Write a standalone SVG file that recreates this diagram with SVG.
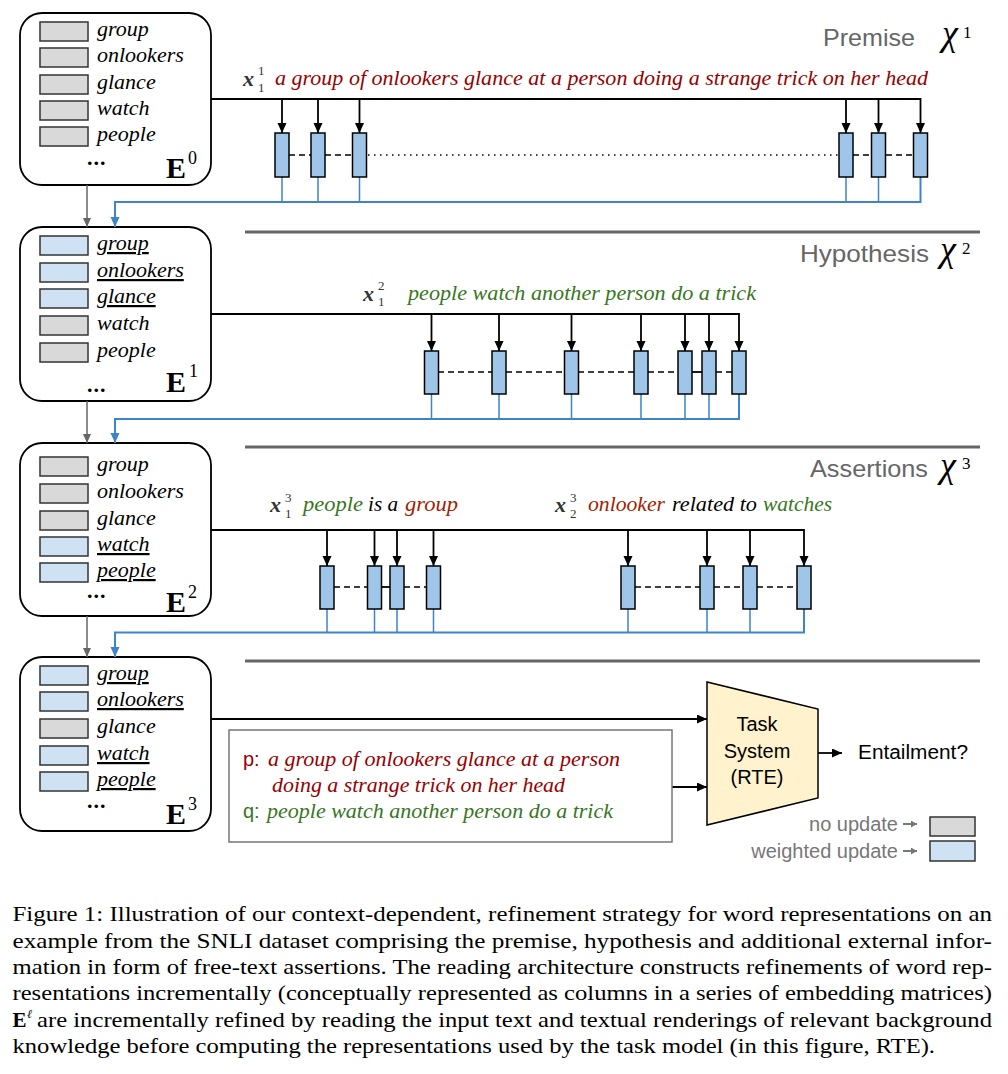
<svg xmlns="http://www.w3.org/2000/svg" width="1008" height="1074" viewBox="0 0 1008 1074">
<defs>
<style>
.box{fill:#fff;stroke:#000;stroke-width:1.8}
.cg{fill:#d9d9d9;stroke:#333;stroke-width:1.5}
.cb{fill:#cfe2f3;stroke:#333;stroke-width:1.5}
.word{font-family:"Liberation Serif","Times New Roman",serif;font-style:italic;font-size:22px;fill:#000}
.u{text-decoration:underline}
.dots{font-family:"Liberation Serif","Times New Roman",serif;font-weight:bold;font-size:22px;letter-spacing:1px}
.E{font-family:"Liberation Serif","Times New Roman",serif;font-weight:bold;font-size:30px}
.sup{font-family:"Liberation Serif","Times New Roman",serif;font-size:18px}
.col{fill:#9fc5e8;stroke:#000;stroke-width:1.5}
.bl{stroke:#000;stroke-width:1.8;fill:none}
.blue{stroke:#3d85c6;stroke-width:1.5;fill:none}
.blueh{stroke:#3d85c6;stroke-width:2;fill:none}
.dash{stroke:#000;stroke-width:1.5;stroke-dasharray:6 4}
.dot{stroke:#000;stroke-width:1.3;stroke-dasharray:1.5 4.5}
.sep{stroke:#666;stroke-width:3}
.garr{stroke:#666;stroke-width:1.5;fill:none}
.sec{font-family:"Liberation Sans",Arial,sans-serif;font-size:24px;fill:#666}
.chi{font-family:"Liberation Serif","Times New Roman",serif;font-style:italic;font-size:36px;fill:#000}
.chis{font-family:"Liberation Serif","Times New Roman",serif;font-size:17px;fill:#000}
.mx{font-family:"Liberation Serif","Times New Roman",serif;font-style:italic;font-weight:bold;font-size:22px;fill:#333}
.ms{font-family:"Liberation Serif","Times New Roman",serif;font-size:13px;fill:#333}
.it{font-family:"Liberation Serif","Times New Roman",serif;font-style:italic;font-size:22px}
.red{fill:#990000}
.red2{fill:#a61c00}
.green{fill:#38761d}
.sans{font-family:"Liberation Sans",Arial,sans-serif;font-size:20px}
.cap{font-family:"Liberation Serif","Times New Roman",serif;font-size:21px;fill:#000}
.capsup{font-family:"Liberation Serif","Times New Roman",serif;font-size:12px;font-style:italic;fill:#000}
</style>
<marker id="ah" markerUnits="userSpaceOnUse" markerWidth="10" markerHeight="10" refX="10" refY="4.5" orient="auto"><path d="M0,0 L10,4.5 L0,9 z" fill="#000"/></marker>
<marker id="ahb" markerUnits="userSpaceOnUse" markerWidth="10" markerHeight="10" refX="10" refY="4.5" orient="auto"><path d="M0,0 L10,4.5 L0,9 z" fill="#3d85c6"/></marker>
<marker id="ahg" markerUnits="userSpaceOnUse" markerWidth="10" markerHeight="10" refX="9" refY="4" orient="auto"><path d="M0,0 L9,4 L0,8 z" fill="#666"/></marker>
<marker id="ahs" markerUnits="userSpaceOnUse" markerWidth="8" markerHeight="8" refX="6" refY="3.5" orient="auto"><path d="M0,0 L6,3.5 L0,7 z" fill="#777"/></marker>
</defs>
<rect width="1008" height="1074" fill="#fff"/>

<!-- separators and section labels -->
<g id="sections">
<line class="sep" x1="245" y1="232" x2="980" y2="232"/>
<line class="sep" x1="245" y1="447" x2="980" y2="447"/>
<line class="sep" x1="245" y1="661" x2="980" y2="661"/>
<text class="sec" x="823" y="46" textLength="92" lengthAdjust="spacingAndGlyphs">Premise</text>
<text class="chi" x="942" y="45">χ</text><text class="chis" x="963" y="38">1</text>
<text class="sec" x="800" y="262" textLength="129" lengthAdjust="spacingAndGlyphs">Hypothesis</text>
<text class="chi" x="940" y="261">χ</text><text class="chis" x="962" y="254">2</text>
<text class="sec" x="810" y="477" textLength="118" lengthAdjust="spacingAndGlyphs">Assertions</text>
<text class="chi" x="940" y="477">χ</text><text class="chis" x="962" y="469">3</text>
</g>

<!-- embedding boxes -->
<g id="E0">
<rect class="box" x="20" y="13" width="191" height="172" rx="22"/>
<rect class="cg" x="40" y="22" width="48" height="19"/><text class="word" x="97" y="36">group</text>
<rect class="cg" x="40" y="48" width="48" height="19"/><text class="word" x="97" y="62">onlookers</text>
<rect class="cg" x="40" y="75" width="48" height="19"/><text class="word" x="97" y="89">glance</text>
<rect class="cg" x="40" y="101" width="48" height="19"/><text class="word" x="97" y="115">watch</text>
<rect class="cg" x="40" y="127" width="48" height="19"/><text class="word" x="97" y="141">people</text>
<text class="dots" x="87" y="165">...</text>
<text class="E" x="166" y="178">E</text><text class="sup" x="188" y="164">0</text>
</g>
<g id="E1">
<rect class="box" x="20" y="227" width="191" height="174" rx="22"/>
<rect class="cb" x="40" y="236" width="48" height="19"/><text class="word u" x="97" y="250">group</text>
<rect class="cb" x="40" y="263" width="48" height="19"/><text class="word u" x="97" y="277">onlookers</text>
<rect class="cb" x="40" y="289" width="48" height="19"/><text class="word u" x="97" y="303">glance</text>
<rect class="cg" x="40" y="316" width="48" height="19"/><text class="word" x="97" y="330">watch</text>
<rect class="cg" x="40" y="343" width="48" height="19"/><text class="word" x="97" y="357">people</text>
<text class="dots" x="87" y="392">...</text>
<text class="E" x="166" y="392">E</text><text class="sup" x="189" y="377">1</text>
</g>
<g id="E2">
<rect class="box" x="20" y="443" width="191" height="173" rx="22"/>
<rect class="cg" x="40" y="457" width="48" height="19"/><text class="word" x="97" y="471">group</text>
<rect class="cg" x="40" y="484" width="48" height="19"/><text class="word" x="97" y="498">onlookers</text>
<rect class="cg" x="40" y="511" width="48" height="19"/><text class="word" x="97" y="525">glance</text>
<rect class="cb" x="40" y="537" width="48" height="19"/><text class="word u" x="97" y="551">watch</text>
<rect class="cb" x="40" y="563" width="48" height="19"/><text class="word u" x="97" y="577">people</text>
<text class="dots" x="87" y="598">...</text>
<text class="E" x="166" y="612">E</text><text class="sup" x="188" y="598">2</text>
</g>
<g id="E3">
<rect class="box" x="20" y="657" width="191" height="174" rx="22"/>
<rect class="cb" x="40" y="666" width="48" height="19"/><text class="word u" x="97" y="680">group</text>
<rect class="cb" x="40" y="692" width="48" height="19"/><text class="word u" x="97" y="706">onlookers</text>
<rect class="cg" x="40" y="719" width="48" height="19"/><text class="word" x="97" y="733">glance</text>
<rect class="cb" x="40" y="746" width="48" height="19"/><text class="word u" x="97" y="760">watch</text>
<rect class="cb" x="40" y="772" width="48" height="19"/><text class="word u" x="97" y="786">people</text>
<text class="dots" x="87" y="808">...</text>
<text class="E" x="166" y="824">E</text><text class="sup" x="188" y="810">3</text>
</g>

<!-- input texts -->
<g id="premise-text">
<text class="mx" x="243" y="86">x</text><text class="ms" x="258" y="75">1</text><text class="ms" x="258" y="92">1</text>
<text class="it red" x="275" y="85" textLength="653" lengthAdjust="spacingAndGlyphs">a group of onlookers glance at a person doing a strange trick on her head</text>
</g>
<g id="hypothesis-text">
<text class="mx" x="363" y="301">x</text><text class="ms" x="378" y="290">2</text><text class="ms" x="378" y="306">1</text>
<text class="it green" x="408" y="300" textLength="348" lengthAdjust="spacingAndGlyphs">people watch another person do a trick</text>
</g>
<g id="assertion-texts">
<text class="mx" x="270" y="512">x</text><text class="ms" x="285" y="502">3</text><text class="ms" x="285" y="518">1</text>
<text class="it green" x="303" y="511" textLength="60" lengthAdjust="spacingAndGlyphs">people</text>
<text class="it" x="368" y="511" textLength="30" lengthAdjust="spacingAndGlyphs">is a</text>
<text class="it red2" x="405" y="511" textLength="53" lengthAdjust="spacingAndGlyphs">group</text>
<text class="mx" x="555" y="512">x</text><text class="ms" x="570" y="502">3</text><text class="ms" x="570" y="518">2</text>
<text class="it red2" x="588" y="511" textLength="77" lengthAdjust="spacingAndGlyphs">onlooker</text>
<text class="it" x="672" y="511" textLength="85" lengthAdjust="spacingAndGlyphs">related to</text>
<text class="it green" x="763" y="511" textLength="69" lengthAdjust="spacingAndGlyphs">watches</text>
</g>

<!-- connectors -->
<g id="connectors">
<!-- premise -->
<path class="bl" d="M211,99 H920.5 V133" marker-end="url(#ah)"/>
<path class="bl" d="M282,99 V133" marker-end="url(#ah)"/>
<path class="bl" d="M318,99 V133" marker-end="url(#ah)"/>
<path class="bl" d="M359.5,99 V133" marker-end="url(#ah)"/>
<path class="bl" d="M846,99 V133" marker-end="url(#ah)"/>
<path class="bl" d="M878.5,99 V133" marker-end="url(#ah)"/>
<line class="dash" x1="289" y1="155" x2="311" y2="155"/>
<line class="dash" x1="325" y1="155" x2="352" y2="155"/>
<line class="dot" x1="368" y1="155" x2="838" y2="155"/>
<line class="dash" x1="853" y1="155" x2="871" y2="155"/>
<line class="dash" x1="886" y1="155" x2="913" y2="155"/>
<path class="blue" d="M282,177 V202 M318,177 V202 M359.5,177 V202 M846,177 V202 M878.5,177 V202"/>
<path class="blueh" d="M920.5,177 V202 H115 V227" marker-end="url(#ahb)"/>
<path class="garr" d="M87,185 V227" marker-end="url(#ahg)"/>
<!-- hypothesis -->
<path class="bl" d="M211,314 H739 V351" marker-end="url(#ah)"/>
<path class="bl" d="M431.5,314 V351" marker-end="url(#ah)"/>
<path class="bl" d="M499,314 V351" marker-end="url(#ah)"/>
<path class="bl" d="M571.5,314 V351" marker-end="url(#ah)"/>
<path class="bl" d="M641,314 V351" marker-end="url(#ah)"/>
<path class="bl" d="M685,314 V351" marker-end="url(#ah)"/>
<path class="bl" d="M709,314 V351" marker-end="url(#ah)"/>
<line class="dash" x1="438" y1="372" x2="492" y2="372"/>
<line class="dash" x1="506" y1="372" x2="564" y2="372"/>
<line class="dash" x1="578" y1="372" x2="634" y2="372"/>
<line class="dash" x1="648" y1="372" x2="678" y2="372"/>
<line class="bl" x1="692" y1="372" x2="702" y2="372"/>
<line class="dash" x1="716" y1="372" x2="732" y2="372"/>
<path class="blue" d="M431.5,394 V419 M499,394 V419 M571.5,394 V419 M641,394 V419 M685,394 V419 M709,394 V419"/>
<path class="blueh" d="M739,394 V419 H115 V443" marker-end="url(#ahb)"/>
<path class="garr" d="M87,401 V443" marker-end="url(#ahg)"/>
<!-- assertions -->
<path class="bl" d="M211,530 H804 V566" marker-end="url(#ah)"/>
<path class="bl" d="M327,530 V566" marker-end="url(#ah)"/>
<path class="bl" d="M374.5,530 V566" marker-end="url(#ah)"/>
<path class="bl" d="M397,530 V566" marker-end="url(#ah)"/>
<path class="bl" d="M433.5,530 V566" marker-end="url(#ah)"/>
<path class="bl" d="M628,530 V566" marker-end="url(#ah)"/>
<path class="bl" d="M707,530 V566" marker-end="url(#ah)"/>
<path class="bl" d="M750,530 V566" marker-end="url(#ah)"/>
<line class="dash" x1="334" y1="587" x2="367" y2="587"/>
<line class="bl" x1="381" y1="587" x2="390" y2="587"/>
<line class="dash" x1="404" y1="587" x2="426" y2="587"/>
<line class="dash" x1="635" y1="587" x2="700" y2="587"/>
<line class="dash" x1="714" y1="587" x2="743" y2="587"/>
<line class="dash" x1="757" y1="587" x2="797" y2="587"/>
<path class="blue" d="M327,609 V632.5 M374.5,609 V632.5 M397,609 V632.5 M433.5,609 V632.5 M628,609 V632.5 M707,609 V632.5 M750,609 V632.5"/>
<path class="blueh" d="M804,609 V632.5 H115 V657" marker-end="url(#ahb)"/>
<path class="garr" d="M87,616 V657" marker-end="url(#ahg)"/>
<!-- task -->
<path class="bl" d="M211,719 H707" marker-end="url(#ah)"/>
<path class="bl" d="M672,787 H707" marker-end="url(#ah)"/>
<path class="bl" d="M818,753 H842" marker-end="url(#ah)"/>
<path d="M903,824 H917" stroke="#777" stroke-width="2" fill="none" marker-end="url(#ahs)"/>
<path d="M903,851 H917" stroke="#777" stroke-width="2" fill="none" marker-end="url(#ahs)"/>
</g>

<!-- column cells -->
<g id="premise-columns">
<rect class="col" x="275" y="133" width="14" height="44"/>
<rect class="col" x="311" y="133" width="14" height="44"/>
<rect class="col" x="352.5" y="133" width="14" height="44"/>
<rect class="col" x="839" y="133" width="14" height="44"/>
<rect class="col" x="871.5" y="133" width="14" height="44"/>
<rect class="col" x="913.5" y="133" width="14" height="44"/>
</g>
<g id="hypothesis-columns">
<rect class="col" x="424.5" y="351" width="14" height="43"/>
<rect class="col" x="492" y="351" width="14" height="43"/>
<rect class="col" x="564.5" y="351" width="14" height="43"/>
<rect class="col" x="634" y="351" width="14" height="43"/>
<rect class="col" x="678" y="351" width="14" height="43"/>
<rect class="col" x="702" y="351" width="14" height="43"/>
<rect class="col" x="732" y="351" width="14" height="43"/>
</g>
<g id="assertion-columns">
<rect class="col" x="320" y="566" width="14" height="43"/>
<rect class="col" x="367.5" y="566" width="14" height="43"/>
<rect class="col" x="390" y="566" width="14" height="43"/>
<rect class="col" x="426.5" y="566" width="14" height="43"/>
<rect class="col" x="621" y="566" width="14" height="43"/>
<rect class="col" x="700" y="566" width="14" height="43"/>
<rect class="col" x="743" y="566" width="14" height="43"/>
<rect class="col" x="797" y="566" width="14" height="43"/>
</g>

<g id="pq-box">
<rect x="229" y="730" width="443" height="112" fill="#fff" stroke="#777" stroke-width="1.5"/>
<text class="sans red" x="243" y="766">p:</text>
<text class="it red" x="268" y="766" textLength="352" lengthAdjust="spacingAndGlyphs">a group of onlookers glance at a person</text>
<text class="it red" x="272" y="792" textLength="293" lengthAdjust="spacingAndGlyphs">doing a strange trick on her head</text>
<text class="sans green" x="243" y="818">q:</text>
<text class="it green" x="267" y="818" textLength="346" lengthAdjust="spacingAndGlyphs">people watch another person do a trick</text>
</g>

<g id="task-system">
<polygon points="707,682 818,709 818,798 707,825" fill="#fff2cc" stroke="#000" stroke-width="1.5"/>
<text class="sans" x="757" y="731" text-anchor="middle">Task</text>
<text class="sans" x="757" y="758" text-anchor="middle">System</text>
<text class="sans" x="757" y="784" text-anchor="middle">(RTE)</text>
</g>
<g id="output">
<text class="sans" x="858" y="759" textLength="110" lengthAdjust="spacingAndGlyphs">Entailment?</text>
</g>

<g id="legend">
<text class="sans" x="898" y="831" fill="#777" style="fill:#777" text-anchor="end">no update</text>
<rect class="cg" x="930" y="817" width="45" height="19"/>
<text class="sans" x="898" y="858" style="fill:#777" text-anchor="end">weighted update</text>
<rect class="cb" x="930" y="841" width="45" height="20"/>
</g>

<g id="caption">
<text class="cap" x="12.5" y="921" textLength="979.5" lengthAdjust="spacingAndGlyphs">Figure 1: Illustration of our context-dependent, refinement strategy for word representations on an</text>
<text class="cap" x="12.5" y="947.5" textLength="979.5" lengthAdjust="spacingAndGlyphs">example from the SNLI dataset comprising the premise, hypothesis and additional external infor-</text>
<text class="cap" x="12.5" y="974" textLength="979.5" lengthAdjust="spacingAndGlyphs">mation in form of free-text assertions. The reading architecture constructs refinements of word rep-</text>
<text class="cap" x="12.5" y="1000" textLength="979.5" lengthAdjust="spacingAndGlyphs">resentations incrementally (conceptually represented as columns in a series of embedding matrices)</text>
<text class="cap" x="12.5" y="1026.5" style="font-weight:bold">E</text><text class="capsup" x="27" y="1018">ℓ</text>
<text class="cap" x="37" y="1026.5" textLength="955" lengthAdjust="spacingAndGlyphs">are incrementally refined by reading the input text and textual renderings of relevant background</text>
<text class="cap" x="12.5" y="1053" textLength="922.5" lengthAdjust="spacingAndGlyphs">knowledge before computing the representations used by the task model (in this figure, RTE).</text>
</g>
</svg>
